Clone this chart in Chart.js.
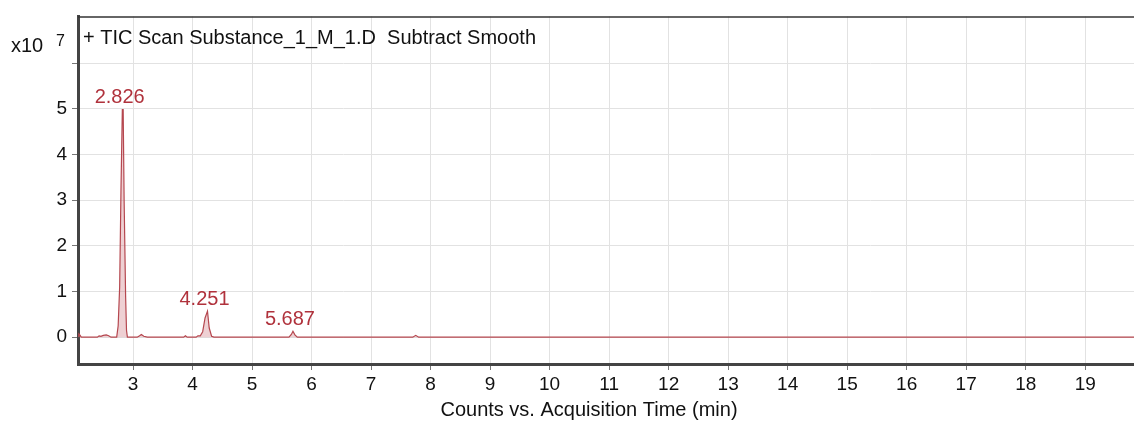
<!DOCTYPE html>
<html>
<head>
<meta charset="utf-8">
<script src="https://cdn.jsdelivr.net/npm/chart.js@4"></script>
<style>
  html, body { margin: 0; padding: 0; background: #fff; }
  #wrap { width: 1134px; height: 421px; }
</style>
</head>
<body>
<div id="wrap"><canvas id="tic"></canvas></div>
<script>
// acquisition time (min) and counts (x10^7)
const times = [2.075, 2.09, 2.105, 2.13, 2.40, 2.43, 2.46, 2.50, 2.55, 2.59, 2.63, 2.70,
  2.725, 2.75, 2.775, 2.797, 2.82, 2.834, 2.85, 2.875, 2.89, 2.905,
  3.07, 3.11, 3.14, 3.18, 3.24, 3.85, 3.88, 3.91, 3.95,
  4.06, 4.09, 4.13, 4.17, 4.21, 4.251, 4.28, 4.32, 4.36,
  5.62, 5.66, 5.687, 5.72, 5.76, 7.70, 7.75, 7.80, 19.82];
const counts = [0.02, 0.07, 0.05, 0.0, 0.0, 0.03, 0.02, 0.04, 0.05, 0.03, 0.0, 0.0,
  0.0, 0.25, 1.1, 3.2, 4.98, 4.98, 3.0, 0.9, 0.15, 0.0,
  0.0, 0.03, 0.06, 0.02, 0.0, 0.0, 0.03, 0.0, 0.0,
  0.0, 0.03, 0.03, 0.12, 0.42, 0.57, 0.2, 0.02, 0.0,
  0.0, 0.06, 0.13, 0.05, 0.0, 0.0, 0.04, 0.0, 0.0];

const peakLabels = [
  { x: 2.826, y: 4.98, text: '2.826' },
  { x: 4.251, y: 0.57, text: '4.251' },
  { x: 5.687, y: 0.13, text: '5.687' }
];
const xTicks = [3, 4, 5, 6, 7, 8, 9, 10, 11, 12, 13, 14, 15, 16, 17, 18, 19];
const yTicks = [0, 1, 2, 3, 4, 5, 6];
const yTickLabels = ['0', '1', '2', '3', '4', '5', ''];

const titleText = '+ TIC Scan Substance_1_M_1.D  Subtract Smooth';
const xTitle = 'Counts vs. Acquisition Time (min)';
const FONT = '"Liberation Sans", Arial, sans-serif';

const decorPlugin = {
  id: 'decor',
  afterDraw(chart) {
    const ctx = chart.ctx;
    const area = chart.chartArea;
    const xs = chart.scales.x, ys = chart.scales.y;
    ctx.save();
    // top frame line
    ctx.strokeStyle = '#333';
    ctx.lineWidth = 1.5;
    ctx.beginPath();
    ctx.moveTo(area.left, area.top + 0.5);
    ctx.lineTo(area.right, area.top + 0.5);
    ctx.stroke();

    // title
    ctx.fillStyle = '#111';
    ctx.font = '20px ' + FONT;
    ctx.textBaseline = 'middle';
    ctx.textAlign = 'left';
    ctx.fillText(titleText, area.left + 5, 38);

    // exponent
    ctx.fillText('x10', 11, 46);
    ctx.font = '16px ' + FONT;
    ctx.fillText('7', 56, 42);

    // x axis title
    ctx.font = '20px ' + FONT;
    ctx.textAlign = 'center';
    ctx.fillText(xTitle, 589, 410);

    // peak labels
    ctx.fillStyle = '#b0323c';
    ctx.textBaseline = 'bottom';
    peakLabels.forEach(p => {
      ctx.fillText(p.text, xs.getPixelForValue(p.x) - 3, ys.getPixelForValue(p.y) - 2);
    });
    ctx.restore();
  }
};

new Chart(document.getElementById('tic'), {
  type: 'line',
  data: {
    datasets: [{
      data: times.map((t, i) => ({ x: t, y: counts[i] })),
      borderColor: '#b5474f',
      borderWidth: 1.2,
      backgroundColor: 'rgba(205, 120, 128, 0.35)',
      fill: 'origin',
      pointRadius: 0,
      tension: 0
    }]
  },
  options: {
    responsive: true,
    maintainAspectRatio: false,
    animation: false,
    layout: { padding: { top: 14, right: 0, left: 0, bottom: 0 } },
    plugins: { legend: { display: false }, tooltip: { enabled: false } },
    scales: {
      x: {
        type: 'linear',
        min: 2.075,
        max: 19.82,
        afterBuildTicks: s => { s.ticks = xTicks.map(v => ({ value: v })); },
        afterFit: s => { s.height = 57; },
        border: { color: '#444', width: 3 },
        grid: { color: '#e2e2e2', tickColor: '#777', tickLength: 6 },
        ticks: { color: '#111', font: { family: FONT, size: 19 }, padding: 3, maxRotation: 0, autoSkip: false }
      },
      y: {
        min: -0.587,
        max: 7.02,
        afterBuildTicks: s => { s.ticks = yTicks.map(v => ({ value: v })); },
        afterFit: s => { s.width = 78; },
        border: { color: '#444', width: 3 },
        grid: { color: '#e2e2e2', tickColor: '#777', tickLength: 6 },
        ticks: {
          color: '#111', font: { family: FONT, size: 19 }, padding: 5,
          callback: (v, i) => yTickLabels[i]
        }
      }
    }
  },
  plugins: [decorPlugin]
});
</script>
</body>
</html>
